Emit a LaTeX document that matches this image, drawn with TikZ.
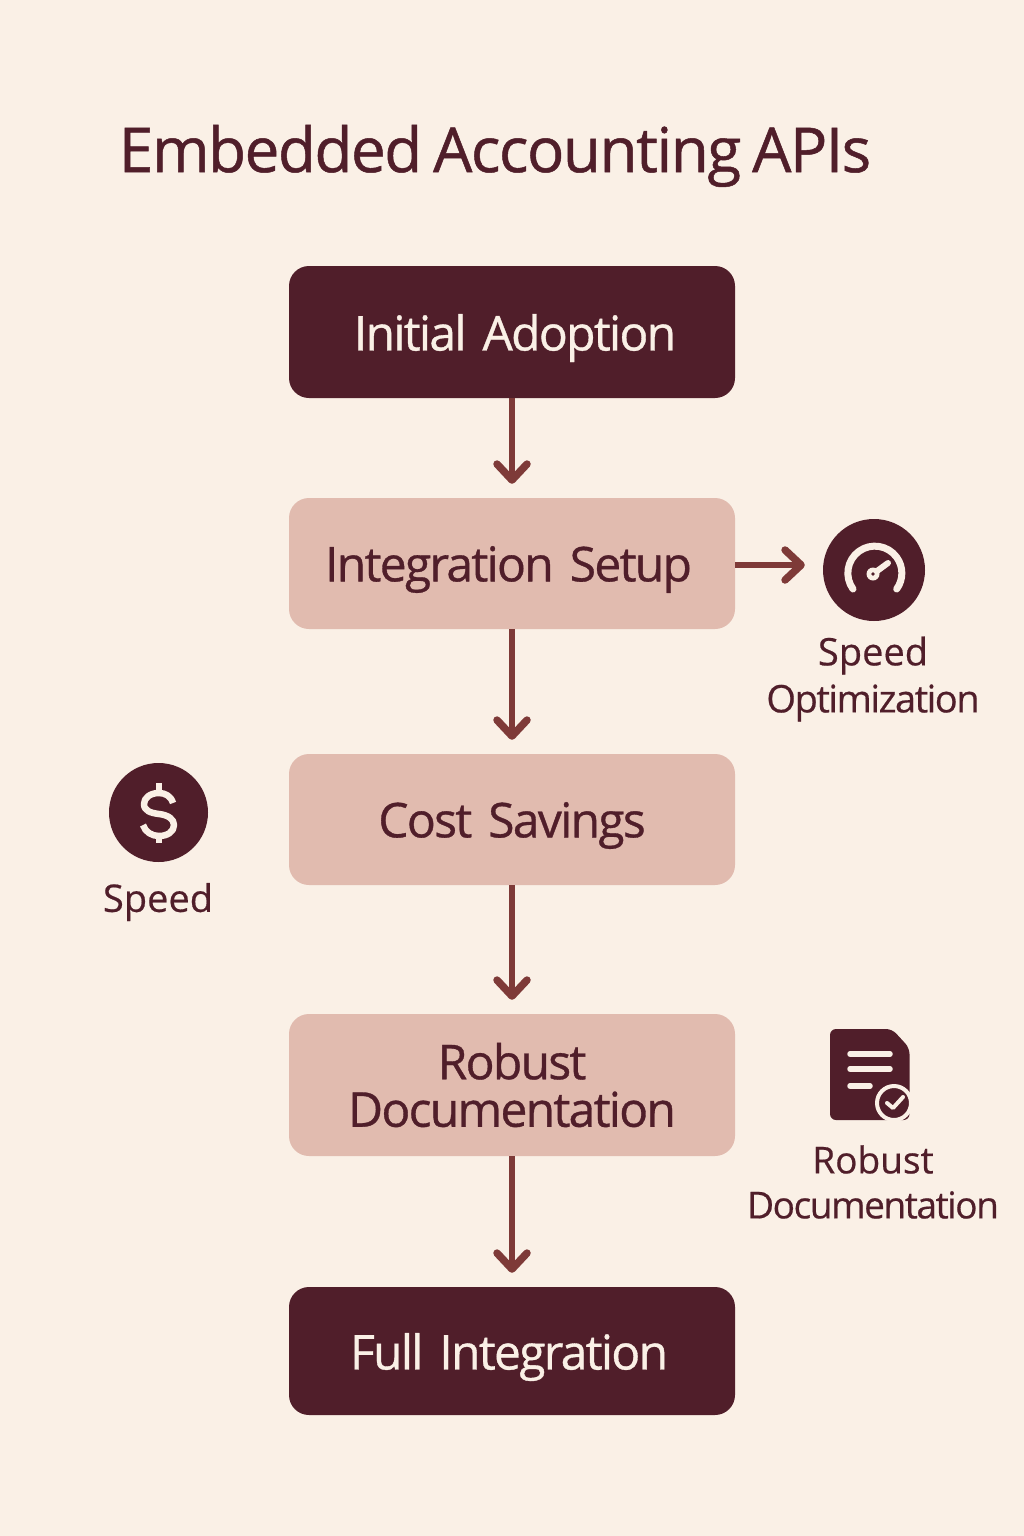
\documentclass[tikz,border=0pt]{standalone}
\usepackage{fontspec}
\setmainfont[FakeBold=0.5]{Open Sans}
\newfontfamily\titlefont[FakeBold=0.8,LetterSpace=-2.4,WordSpace=0.75]{Open Sans}
\newfontfamily\boxfont[FakeBold=0.7,LetterSpace=-3.6,WordSpace=0.4]{Open Sans}
\newfontfamily\tightfont[FakeBold=0.5,LetterSpace=-3.8]{Open Sans}
\usetikzlibrary{arrows.meta}
\definecolor{bgc}{HTML}{FAF0E6}
\definecolor{dark}{HTML}{501E2A}
\definecolor{pinkb}{HTML}{E1BBAF}
\definecolor{arrowc}{HTML}{7E3A38}
\newcommand{\boxline}[1]{\raisebox{-6pt}[\height][\depth]{#1}}
\tikzset{
 x=1pt,y=-1pt,
 flowbox/.style={rounded corners=20pt,minimum width=446pt,inner sep=0pt,align=center,text width=446pt},
 darkbox/.style={flowbox,fill=dark,text=bgc},
 lightbox/.style={flowbox,fill=pinkb,text=dark},
 boxtext/.style={font=\boxfont\fontsize{48}{48}\selectfont},
 conn/.style={draw=arrowc,line width=5.5pt,-{Straight Barb[length=16pt,width=30pt,line width=7.5pt,round]},shorten >=14pt},
 side/.style={text=dark,align=center,inner sep=0pt},
 iconfill/.style={fill=dark,draw=none},
 iconline/.style={draw=bgc,line cap=round,line join=round},
}
\begin{document}
\begin{tikzpicture}
\useasboundingbox[fill=bgc] (0,0) rectangle (1024,1536);
\node[text=dark,inner sep=0pt,font=\titlefont\fontsize{62}{64}\selectfont] (title) at (495,156) {Embedded Accounting APIs};

\node[darkbox,boxtext,minimum height=132pt] (a) at (512,332) {\kern6pt\boxline{Initial Adoption}};
\node[lightbox,boxtext,minimum height=131pt] (b) at (512,563.5) {\kern-7pt\boxline{Integration Setup}};
\node[lightbox,boxtext,minimum height=131pt] (c) at (512,819.5) {\boxline{Cost Savings}};
\node[lightbox,boxtext,minimum height=142pt] (d) at (512,1085) {Robust\\[3.5pt]\kern-4pt Documentation};
\node[darkbox,boxtext,minimum height=128pt] (e) at (512,1351) {\kern-6pt\boxline{Full Integration}};

\draw[conn] (a) -- (b);
\draw[conn] (b) -- (c);
\draw[conn] (c) -- (d);
\draw[conn] (d) -- (e);

% speed optimization icon
\node[circle,iconfill,minimum size=102pt,inner sep=0pt] (gauge) at (874,570) {};
\draw[conn,shorten >=18pt] (b.east |- 0,565) coordinate (bout) -- (gauge.west |- bout);
\draw[iconline,line width=7pt] (853,589) arc[start angle=216,end angle=-36,radius=27pt];
\draw[iconline,line width=6pt] (873,574) -- (888,563);
\fill[bgc] (873,574) circle (6.5pt);
\fill[dark] (873,574) circle (1.8pt);
\node[side,font=\fontsize{38}{47}\selectfont] (gaugelabel) at (873,679) {Speed\\{\tightfont Optimization}};

% dollar icon
\node[circle,iconfill,minimum size=99pt,inner sep=0pt] (dollar) at (158.5,812.5) {};
\draw[iconline,line width=6pt,line cap=butt] (159,783) -- (159,793);
\draw[iconline,line width=6pt,line cap=butt] (159,836) -- (159,843);
\draw[iconline,line width=6.5pt,line cap=butt] (173,803) .. controls (171,796) and (165,793) .. (159,793)
  .. controls (150,793) and (144,798) .. (144,804)
  .. controls (144,811) and (151,813) .. (159,814)
  .. controls (168,815) and (174,819) .. (174,825)
  .. controls (174,832) and (167,836) .. (159,836)
  .. controls (152,836) and (145,832) .. (143,825);
\node[side,font=\fontsize{38}{46}\selectfont] (dollarlabel) at (158,902) {Speed};

% document icon
\fill[iconfill,rounded corners=6pt] (830,1029) -- (892,1029) -- (909.5,1048) -- (909.5,1120) -- (830,1120) -- cycle;
\draw[iconline,line width=5.5pt] (850,1054) -- (890,1054);
\draw[iconline,line width=5.5pt] (850,1069) -- (890,1069);
\draw[iconline,line width=5.5pt] (850,1086) -- (870,1086);
\fill[dark,draw=bgc,line width=4pt] (894,1103) circle (17pt);
\draw[iconline,line width=4pt] (887,1103) -- (893,1108) -- (903,1097);
\node[side,font=\fontsize{37}{45}\selectfont] (doclabel) at (873,1182) {Robust\\{\tightfont Documentation}};
\end{tikzpicture}
\end{document}
